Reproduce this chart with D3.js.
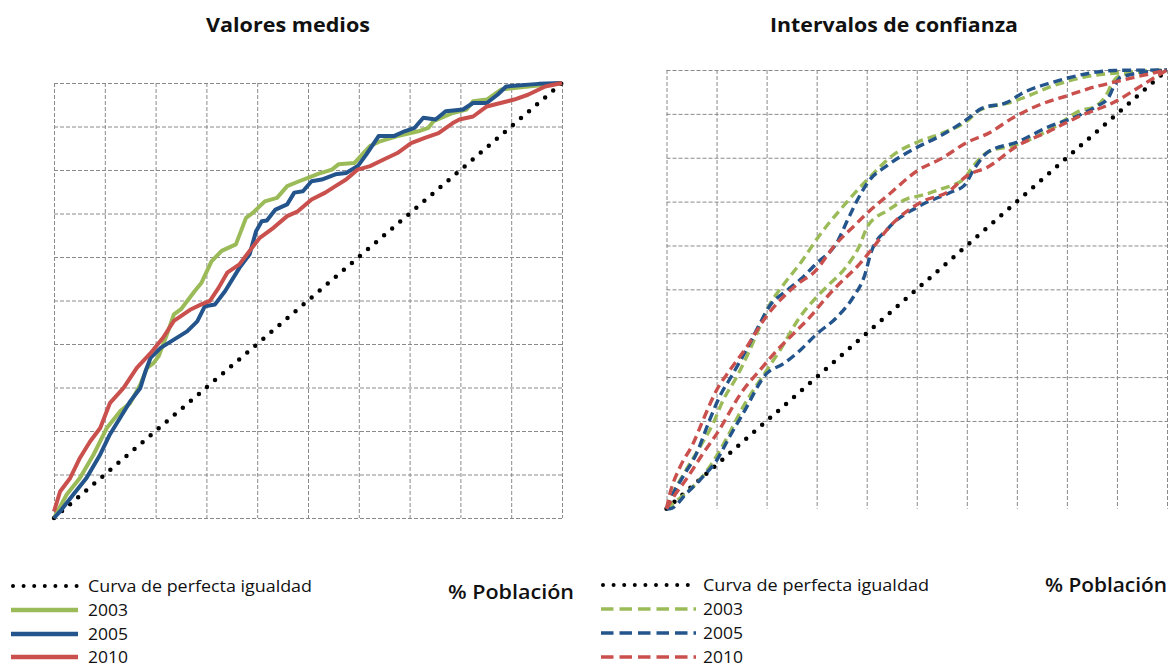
<!DOCTYPE html>
<html>
<head>
<meta charset="utf-8">
<script src="https://cdn.jsdelivr.net/npm/d3@7"></script>
<style>
  html, body { margin: 0; padding: 0; background: #fff; }
  svg { display: block; }
  text { font-family: "Open Sans", "Noto Sans", sans-serif; fill: #111; }
</style>
</head>
<body>
<svg id="chart" width="1169" height="669"></svg>
<script>
// Concentration curves (% population vs cumulative %), by year
const years = ["2003", "2005", "2010"];
const yearColors = ["#9BBB59", "#23548C", "#C9504C"];
const equality = [[0, 0], [100, 100]];

// Mean values
const mean2003 = [[0,0],[2.5,5.4],[5.1,9.2],[7.8,14.6],[10.4,20.7],[13,24.5],[15,26.4],[17,30.7],[18.3,34.5],[19.6,35.6],[20.6,37.2],[22.2,42.1],[23.6,46.8],[25,48],[27.6,52],[29,54],[31,59],[33,61.4],[35.8,62.9],[37.8,69],[39.2,70.2],[41.5,72.8],[43.9,73.6],[45.9,76.3],[48,77.3],[50,78.2],[52,79.1],[54.7,80.1],[56,81.3],[59.1,81.6],[62.2,85.5],[64.2,86.6],[67.6,87.8],[71.7,88.9],[73.7,89.7],[74.7,91.2],[78.5,93.1],[81.2,93.9],[82.5,95.8],[85.2,96.2],[88,98.5],[92,99],[100,100]];
const mean2005 = [[0,0],[1.2,1.5],[3.8,5.4],[6.4,9.2],[9.1,14.6],[11,19.2],[13,23],[15,26.8],[17,29.9],[18,33.7],[19,36.8],[21,39.1],[23.6,41],[26.2,42.9],[28.2,45.2],[29.7,48.7],[31.7,49.1],[33.7,52.2],[36.5,57.5],[38.5,60.6],[39.8,66],[40.9,68.2],[41.9,68.4],[43.6,70.9],[45.9,72.1],[47.3,74.8],[49,75.1],[50.7,77.4],[52.7,77.8],[55.4,79],[57.5,79.3],[59.8,80.9],[61.5,83.6],[63.9,87.8],[66.9,87.8],[69,88.9],[71,89.7],[72.7,92],[75.1,91.6],[77.1,93.5],[80.5,93.9],[82.5,95.4],[85.2,95.4],[87.3,97.3],[89,99.2],[95.4,99.8],[100,100]];
const mean2010 = [[0,1.5],[1.2,6.1],[3.2,9.2],[5.1,13.8],[7.1,17.6],[9.1,20.7],[11,26.4],[13.7,29.9],[16.3,34.5],[19,37.9],[21.5,41.5],[23.6,45.3],[27,48],[29,49.1],[30.7,49.9],[32.4,52.9],[34.1,56.4],[36.5,58.3],[38.5,61.4],[40.5,64.4],[43.2,66.7],[45.9,69.4],[48,70.5],[50.7,73.2],[53.4,74.8],[55.4,76.3],[57.5,77.8],[59.8,80.1],[62.2,80.9],[64.9,82.4],[67.6,83.9],[70.3,86.2],[73,87.4],[75.7,88.5],[78.5,90.8],[79.8,91.6],[82.5,92.3],[85.2,94.6],[87.9,95.4],[90.6,96.2],[93.3,97.3],[96.7,99.2],[100,100]];

// Confidence intervals (upper and lower bounds)
const upper2003 = [[0,0],[1.3,3.5],[4,9],[6.7,14.1],[9.3,19.4],[11.3,24.7],[14,30],[16.6,36.1],[18.6,41.4],[20.6,46.5],[23,50.5],[26.9,56.2],[30.3,61.9],[34.9,68.4],[40.3,75.2],[45.6,80.9],[50.2,83.6],[54.9,85.5],[60.2,88.5],[62.5,90.8],[68.9,92.7],[70.9,93.5],[77.5,96.5],[83.5,98.4],[90.8,99.4],[100,100]];
const lower2003 = [[0,0],[1.3,1.2],[5.3,5],[8.6,9.5],[12,16],[15.3,23.2],[20,31.5],[22.6,36],[26.6,43.6],[29.3,47.4],[32.3,50.9],[35.6,54.7],[38.3,59.3],[40.3,64.6],[44.2,68],[48.2,70.7],[50.9,71.4],[54.9,72.9],[59.5,75.2],[60.9,77.5],[64.2,81.3],[69.5,82.8],[71.5,83.6],[77.5,87],[82.8,90.8],[85.5,91.6],[88.2,95],[88.8,96.5],[90.8,98.8],[100,100]];
const upper2005 = [[0,0],[0.7,2],[3.3,7.3],[6,12.6],[8.6,20.2],[10.6,25.5],[13.3,30.8],[16.6,37.6],[18.6,42.1],[20.6,46.2],[24,49.7],[26.9,52.4],[29.6,55.5],[34.3,61.2],[36.3,66.1],[38.3,70.7],[40.3,74.5],[44.2,78.3],[49.6,82.1],[54.9,85.1],[60.2,88.9],[62.9,91.2],[68.2,92.7],[70.9,94.6],[77.5,97.3],[84.2,99.2],[89.5,99.9],[100,100]];
const lower2005 = [[0,0],[0.7,0],[4,3.5],[7.3,7.3],[10,11],[12.6,16.4],[15.3,21.7],[20,30.8],[23.3,33],[26.6,36],[30,39.8],[34,43.6],[37.3,48.2],[39.6,53.2],[40.9,58.5],[44.2,63.8],[50.2,68.8],[56.9,72.2],[59.5,73.7],[61.5,77.5],[64.2,81.3],[70.2,83.6],[76.2,87],[80.8,88.9],[86.2,91.9],[88.2,93.5],[89.5,96.5],[90.8,98.4],[100,100]];
const upper2010 = [[0,0],[0.7,3.5],[2.7,9.5],[5.3,14.8],[7.3,20.2],[10,27],[12.6,31.5],[16,36.8],[19.6,43.3],[23,47.9],[26.3,51.3],[29.6,54],[33.6,60],[37.6,64.6],[40.3,67.6],[44.2,71.4],[50.2,77.1],[54.9,79.8],[60.2,83.6],[64.2,85.5],[69.5,89.3],[74.2,91.9],[80.2,94.2],[84.2,95.7],[90.8,97.6],[100,100]];
const lower2010 = [[0,0],[1.3,2.5],[4,6.8],[7.3,12.6],[10,17],[15.3,27],[18.6,31.5],[22,36],[25.3,39.8],[28.6,43.6],[32,48.2],[33.6,50.2],[38.9,56.2],[41.6,60],[44.2,63.8],[50.9,69.9],[56.2,72.2],[60.2,76],[64.2,77.9],[70.2,82.8],[76.2,85.9],[82.2,89.3],[89.5,92.7],[96.1,97.3],[100,100]];

const gridTicks = d3.range(0, 101, 10);
const titles = ["Valores medios", "Intervalos de confianza"];
const equalityLabel = "Curva de perfecta igualdad";
const axisLabel = "% Población";

const svg = d3.select("#chart");

function panel(cfg) {
  const x = d3.scaleLinear().domain([0, 100]).range([cfg.x0, cfg.x1]);
  const y = d3.scaleLinear().domain([0, 100]).range([cfg.y0, cfg.y1]);
  const g = svg.append("g");

  // grid
  const grid = g.append("g").attr("stroke", "#8a8a8a").attr("stroke-width", 1)
    .attr("stroke-dasharray", "4,2").attr("fill", "none");
  grid.selectAll("line.v").data(gridTicks).join("line").attr("class", "v")
    .attr("x1", d => x(d) + 0.5).attr("x2", d => x(d) + 0.5)
    .attr("y1", y(100)).attr("y2", y(0));
  grid.selectAll("line.h").data(gridTicks.filter(cfg.hFilter)).join("line").attr("class", "h")
    .attr("x1", x(0)).attr("x2", x(100))
    .attr("y1", d => y(d) + 0.5).attr("y2", d => y(d) + 0.5);

  const straight = d3.line().x(d => x(d[0])).y(d => y(d[1]));
  const smooth = d3.line().x(d => x(d[0])).y(d => y(d[1])).curve(d3.curveMonotoneX);

  // equality diagonal
  g.append("path").datum(equality).attr("d", straight)
    .attr("fill", "none").attr("stroke", "#000").attr("stroke-width", 4.5)
    .attr("stroke-linecap", "round").attr("stroke-dasharray", "0,10.6");

  cfg.series.forEach(s => {
    g.append("path").datum(s.data).attr("d", cfg.dashed ? smooth : straight)
      .attr("fill", "none").attr("stroke", s.color)
      .attr("stroke-width", cfg.dashed ? 3.4 : 4)
      .attr("stroke-linejoin", "round")
      .attr("stroke-dasharray", cfg.dashed ? "9,5" : null);
  });

  // title
  g.append("text").attr("x", cfg.titleX).attr("y", 32).attr("text-anchor", "middle")
    .attr("font-size", 19).attr("font-weight", 700)
    .attr("textLength", cfg.titleW).attr("lengthAdjust", "spacingAndGlyphs")
    .text(cfg.title);

  // legend
  const lg = g.append("g");
  const rows = [equalityLabel].concat(years);
  rows.forEach((label, i) => {
    const cy = cfg.legY[i];
    if (i === 0) {
      lg.append("line").attr("x1", cfg.legX0 + 2).attr("x2", cfg.legX1)
        .attr("y1", cy).attr("y2", cy)
        .attr("stroke", "#000").attr("stroke-width", 4).attr("stroke-linecap", "round")
        .attr("stroke-dasharray", "0,10.6");
    } else {
      lg.append("line").attr("x1", cfg.legX0).attr("x2", cfg.legX1 + (cfg.dashed ? 4 : 0))
        .attr("y1", cy).attr("y2", cy)
        .attr("stroke", yearColors[i - 1]).attr("stroke-width", cfg.dashed ? 3.6 : 4.5)
        .attr("stroke-dasharray", cfg.dashed ? "12.5,6" : null);
    }
    lg.append("text").attr("x", cfg.legTextX).attr("y", cy + 6)
      .attr("font-size", 16.5)
      .attr("textLength", i === 0 ? cfg.legTextW : 40).attr("lengthAdjust", "spacingAndGlyphs")
      .text(label);
  });
  g.append("text").attr("x", cfg.popX).attr("y", cfg.popY)
    .attr("font-size", 19).attr("font-weight", 600)
    .attr("textLength", cfg.popW).attr("lengthAdjust", "spacingAndGlyphs")
    .text(axisLabel);
}

panel({
  x0: 54, x1: 562, y0: 518, y1: 83, dashed: false,
  hFilter: () => true,
  series: [
    { data: mean2003, color: yearColors[0] },
    { data: mean2005, color: yearColors[1] },
    { data: mean2010, color: yearColors[2] }
  ],
  title: titles[0], titleX: 288, titleW: 164,
  legX0: 11, legX1: 78, legTextX: 88, legTextW: 224, legY: [586, 610, 634, 657],
  popX: 448, popY: 599, popW: 126
});

panel({
  x0: 666.5, x1: 1167, y0: 508.7, y1: 70, dashed: true,
  hFilter: d => d >= 20,
  series: [
    { data: upper2003, color: yearColors[0] },
    { data: lower2003, color: yearColors[0] },
    { data: upper2005, color: yearColors[1] },
    { data: lower2005, color: yearColors[1] },
    { data: upper2010, color: yearColors[2] },
    { data: lower2010, color: yearColors[2] }
  ],
  title: titles[1], titleX: 894, titleW: 248,
  legX0: 601, legX1: 692, legTextX: 703, legTextW: 226, legY: [585, 609, 633, 657],
  popX: 1045, popY: 592, popW: 122
});
</script>
</body>
</html>
